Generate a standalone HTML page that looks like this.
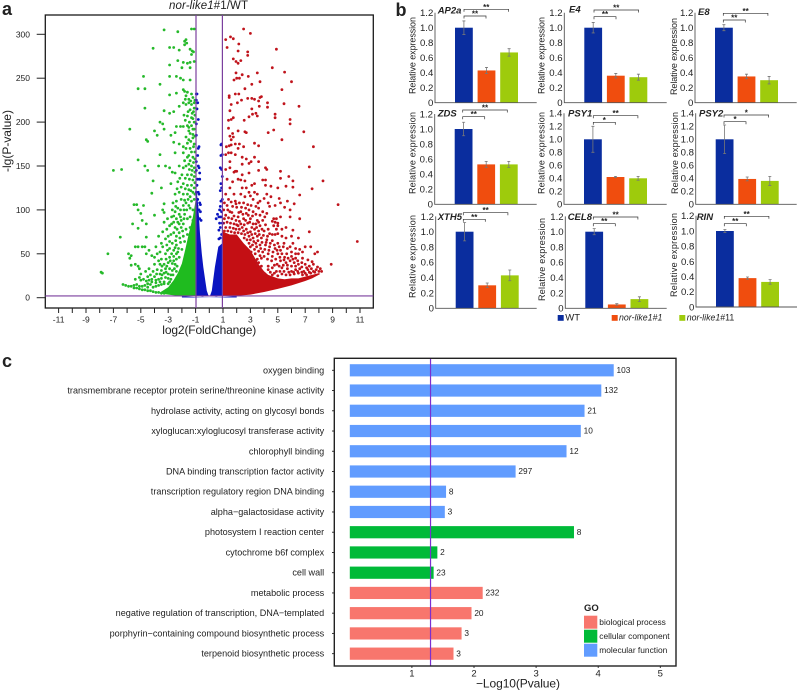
<!DOCTYPE html>
<html>
<head>
<meta charset="utf-8">
<title>nor-like1 volcano, qPCR and GO enrichment</title>
<style>
html,body{margin:0;padding:0;background:#fff}
svg{display:block}
text{font-family:"Liberation Sans",Arial,sans-serif;fill:#222}
</style>
</head>
<body>
<svg id="fig" xmlns="http://www.w3.org/2000/svg" width="798" height="690" viewBox="0 0 798 690"></svg>
<script>
// ---------- Panel a: volcano ----------
const volcanoXTicks = [-11,-10,-9,-8,-7,-6,-5,-4,-3,-2,-1,0,1,2,3,4,5,6,7,8,9,10,11];
const volcanoXLabels = [-11,-9,-7,-5,-3,-1,1,3,5,7,9,11];
const volcanoYTicks = [0,50,100,150,200,250,300];
const foldThresholds = [-1,1];
const pThreshold = [2];

const greenPoints = [[-3.3,305],[-2.3,303],[-1.3,306],[-1.1,306],[-1.8,292],[-1.7,294],[-1.65,290],[-1.8,288],[-4.1,284],[-2.9,285],[-2.6,285],[-2.2,282],[-1.4,283],[-1.25,281],[-1.15,280],[-1.3,277],[-2.3,270],[-1.9,268],[-1.6,267],[-1.4,268],[-1.1,269],[-2.9,265],[-2.0,262],[-1.4,262],[-2.9,252],[-2.4,252],[-2.1,250],[-1.9,248],[-1.4,248],[-4.8,252],[-5.2,238],[-4.7,238],[-3.6,243],[-1.9,237],[-1.8,235],[-1.6,234],[-2.9,231],[-2.4,233],[-1.7,230],[-1.3,232],[-1.2,228],[-1.05,225],[-4.7,216],[-5.8,192],[-3.3,213],[-2.9,210],[-2.6,212],[-2.2,218],[-1.9,222],[-1.7,220],[-1.5,222],[-1.3,220],[-1.1,216],[-3.6,200],[-3.4,198],[-3.3,192],[-2.4,195],[-2.1,195],[-1.9,195],[-1.6,196],[-1.5,190],[-1.4,187],[-1.2,192],[-1.1,200],[-1.3,205],[-1.6,207],[-4.0,190],[-3.8,185],[-2.8,185],[-2.5,188],[-1.7,183],[-1.5,180],[-1.2,182],[-4.6,180],[-4.5,178],[-2.6,177],[-2.2,175],[-1.9,172],[-1.7,170],[-1.4,170],[-1.1,175],[-3.6,163],[-2.5,165],[-1.9,165],[-1.5,162],[-1.2,160],[-5.2,157],[-3.7,150],[-3.2,150],[-2.9,148],[-2.2,150],[-1.9,148],[-1.5,152],[-1.3,150],[-1.1,148],[-4.7,150],[-4.5,145],[-7.0,145],[-6.4,146],[-2.7,143],[-2.5,142],[-2.0,140],[-1.6,140],[-1.3,140],[-1.1,138],[-4.1,133],[-2.8,130],[-2.3,132],[-1.9,130],[-1.6,128],[-1.3,128],[-1.1,125],[-4.2,119],[-3.5,125],[-2.5,118],[-2.2,120],[-1.9,118],[-1.6,118],[-1.4,115],[-1.1,112],[-5.5,106],[-5.3,106],[-4.8,105],[-3.3,107],[-3.4,100],[-5.2,100],[-5.0,96],[-3.3,97],[-2.7,100],[-2.5,98],[-2.3,102],[-2.1,100],[-1.9,105],[-1.7,108],[-1.5,105],[-1.2,100],[-2.6,93],[-2.4,90],[-2.1,92],[-1.8,95],[-1.6,90],[-1.4,92],[-1.2,88],[-5.6,84],[-4.9,88],[-4.6,84],[-4.0,94],[-3.3,86],[-2.9,82],[-2.5,80],[-2.2,84],[-1.9,84],[-1.7,78],[-1.4,80],[-5.2,79],[-3.1,78],[-3.7,70],[-3.4,75],[-2.8,72],[-2.4,70],[-2.2,74],[-1.9,70],[-1.6,72],[-6.5,69],[-4.6,69],[-3.2,67],[-2.7,62],[-2.4,60],[-2.1,63],[-1.8,64],[-5.4,58],[-5.2,58],[-4.9,58],[-4.7,58],[-4.4,54],[-3.9,58],[-3.4,58],[-2.9,56],[-2.6,54],[-2.3,52],[-2.0,55],[-7.4,50],[-5.9,50],[-5.7,48],[-5.8,45],[-4.6,50],[-4.2,48],[-3.8,50],[-3.2,50],[-2.9,46],[-2.6,47],[-2.4,44],[-3.5,44],[-3.7,42],[-5.7,37],[-5.4,38],[-5.2,36],[-5.1,33],[-4.0,38],[-3.6,38],[-3.3,38],[-3.0,40],[-2.7,39],[-2.5,38],[-7.9,29],[-7.8,28],[-4.1,30],[-3.8,32],[-3.5,31],[-3.2,33],[-2.9,33],[-2.7,31],[-4.3,26],[-4.0,24],[-3.6,27],[-3.3,28],[-3.0,27],[-2.8,26],[-5.4,21],[-5.1,23],[-5.0,20],[-4.8,21],[-4.6,19],[-4.4,20],[-4.2,21],[-3.9,20],[-3.7,21],[-3.5,22],[-3.2,23],[-3.0,22],[-2.8,21],[-6.3,15],[-6.1,14],[-5.9,13],[-5.7,13],[-5.5,14],[-5.5,11],[-5.3,15],[-5.3,11],[-5.1,13],[-5.1,10],[-4.9,13],[-4.9,9],[-4.7,14],[-4.7,9],[-4.5,12],[-4.5,8],[-4.3,15],[-4.3,8],[-4.1,12],[-4.1,7],[-3.9,13],[-3.9,6],[-3.7,14],[-3.7,6],[-3.5,15],[-3.5,5],[-3.3,16],[-3.3,5],
[-1.15,212],[-1.25,210],[-1.4,214],[-1.55,212],[-1.75,226],[-1.5,226],[-1.35,224],[-1.1,222],[-1.05,208],[-1.2,204],[-1.45,200],[-1.75,202],[-1.85,208],[-1.3,196],[-1.1,192],[-1.5,194],[-1.2,186],[-1.05,184],[-1.35,178],[-1.6,176],[-1.15,172],[-1.3,166],[-1.05,166],[-1.6,160],[-1.8,156],[-1.4,156],[-1.15,154],[-1.05,158],[-1.25,145],[-1.45,146],[-1.7,150],[-1.05,143],[-1.2,134],[-1.45,135],[-1.75,136],[-2.15,136],[-1.05,131],[-1.35,122],[-1.2,120],[-1.5,123],[-1.75,124],[-2.05,126],[-2.35,124],[-1.05,118],[-1.3,110],[-1.55,112],[-1.8,111],[-2.05,112],[-2.4,110],[-2.65,108],[-1.4,102],[-1.65,100],[-1.85,100],[-2.2,95],[-2.45,104],[-2.75,92],[-3.05,90],[-2.05,88],[-1.85,90],[-2.3,86],[-2.6,86],[-2.75,84],[-2.05,80],[-2.35,78],[-2.6,74],[-3.0,70],[-1.95,76],[-2.15,68],[-2.45,65],[-2.9,64],[-3.5,62],[-3.1,60],[-2.25,56],[-2.5,57],[-2.75,50],[-3.05,54],[-3.6,52],[-4.0,46],[-2.2,46],[-2.4,50],[-2.85,42],[-3.15,44],[-3.45,36],[-2.6,42],[-2.55,33],[-2.35,36],[-2.4,30],[-3.1,36],[-2.65,26],[-3.85,27],[-3.45,26],[-3.15,29],[-4.5,24],[-4.65,30],[-5.0,27],[-4.4,33],[-3.3,18],[-3.0,16],[-3.6,18],[-3.9,17],[-4.2,18],[-4.5,16],[-2.9,18]];

const redPoints = [[2.5,306],[3.0,301],[1.2,294],[1.55,297],[1.75,295],[1.3,285],[2.15,289],[2.1,281],[2.8,280],[2.8,276],[4.9,283],[1.75,272],[1.95,269],[2.3,270],[2.1,267],[4.6,262],[5.5,257],[3.5,256],[1.95,256],[2.4,254],[2.85,252],[2,250],[2.2,250],[1.8,248],[6,246],[3.7,246],[3.1,243],[5.3,237],[2.6,238],[1.9,232],[2.15,232],[1.45,230],[1.45,228],[2.8,227],[3.1,227],[3.3,226],[3.7,228],[3.8,229],[3.6,224],[2.35,225],[2.05,222],[1.6,220],[4.25,222],[5.45,221],[6.55,218],[3.65,218],[4.25,217],[3.1,215],[1.5,213],[3.4,210],[3.15,209],[3.5,207],[4.8,209],[4.8,205],[2.9,206],[1.75,205],[1.6,203],[2.55,202],[5.9,203],[5.9,198],[1.4,202],[2.1,190],[1.4,193],[6.9,189],[4.7,191],[4.3,188],[2.6,189],[2.7,188],[1.7,187],[1.5,184],[5.3,180],[7.6,172],[3.3,176],[3.6,173],[1.6,180],[1.75,183],[1.25,172],[1.45,173],[1.6,174],[1.9,175],[2.2,175],[2.5,172],[2.1,170],[1.4,165],[1.6,165],[1.2,163],[1.9,163],[2.4,160],[2.7,158],[3.3,160],[3.6,155],[3.05,155],[2.9,153],[2.4,152],[1.5,155],[7.3,149],[5.2,144],[4.2,146],[4.1,148],[3.6,145],[1.2,146],[1.5,148],[1.8,143],[1.9,144],[2.0,144],[2.4,140],[2.9,142],[5.8,138],[6.1,133],[3.9,134],[4.1,134],[5.2,136],[8.3,133],[2.1,135],[2.3,134],[2.6,133],[1.3,135],[1.7,132],[3.3,130],[3.1,128],[4.1,128],[4.5,127],[5.0,125],[5.6,127],[6.1,126],[7.5,124],[2.4,125],[2.7,125],[1.5,125],[2.9,120],[3.3,120],[3.5,118],[3.0,116],[6.6,117],[4.2,118],[1.2,118],[1.8,118],[2.3,118],[2.6,115],[3.2,112],[3.7,110],[4.0,113],[4.5,115],[5.1,113],[1.4,112],[1.9,110],[2.2,108],[2.5,108],[2.8,106],[3.4,104],[4.3,108],[5.2,108],[5.7,110],[6.2,107],[9.4,106],[4.8,105],[4.4,104],[5.5,103],[5.9,100],[1.3,105],[1.7,104],[2.0,103],[2.9,100],[3.2,98],[3.6,102],[3.9,98],[1.5,98],[2.3,98],[2.7,96],[3.4,95],[4.2,96],[5.9,92],[5.2,92],[4.7,90],[4.9,90],[6.6,90],[1.2,94],[1.8,93],[2.1,92],[2.5,90],[3.0,90],[3.5,88],[3.9,88],[4.6,87],[4.8,86],[5.0,85],[5.0,82],[4.7,82],[4.9,78],[5.3,78],[2.8,85],[3.2,84],[3.7,82],[4.1,83],[7.3,75],[5.6,80],[6.1,77],[3.3,78],[3.6,76],[4.0,76],[4.4,73],[4.6,72],[4.8,72],[5.0,73],[5.3,70],[5.6,68],[6.0,70],[6.5,68],[3.0,75],[2.7,78],[2.4,80],[2.1,82],[2.6,72],[2.9,70],[3.2,68],[3.5,70],[3.8,68],[4.2,66],[4.6,65],[5.0,62],[5.4,58],[5.7,56],[6.1,62],[7.0,58],[7.4,58],[3.4,62],[3.7,60],[4.1,60],[4.4,58],[4.8,56],[5.2,54],[6.6,55],[6.8,52],[6.5,50],[7.9,52],[7.7,50],[3.0,58],[3.3,55],[3.6,53],[3.9,52],[4.3,50],[4.6,47],[5.0,50],[5.5,46],[6.0,47],[6.3,45],[6.8,45],[7.2,43],[7.5,41],[8.9,38],[3.2,45],[3.5,44],[3.8,45],[5.2,42],[5.6,40],[5.9,42],[6.2,40],[6.5,38],[7.0,38],[7.3,36],[7.6,38],[7.9,35],[8.1,33],[3.5,38],[3.8,36],[4.0,28],[4.3,32],[4.6,34],[4.9,30],[5.3,34],[5.7,33],[6.0,30],[6.3,32],[6.6,33],[6.9,30],[7.2,32],[7.6,30],[4.6,26],[5.0,25],[5.3,27],[5.6,26],[5.9,26],[6.2,27],[6.5,28],[6.8,26],[7.1,26],[7.4,28],[7.7,29],[8.0,30],[8.2,30],[10.8,64],
[1.1,108],[1.6,109],[1.95,107],[2.35,103],[2.65,102],[3.05,105],[3.55,108],[1.05,100],[1.35,100],[1.65,97],[2.15,97],[2.45,95],[2.85,94],[3.15,93],[3.7,94],[4.05,92],[1.1,90],[1.4,91],[1.65,90],[1.95,88],[2.2,87],[2.65,88],[2.95,86],[3.4,84],[3.6,86],[1.05,85],[1.3,86],[1.55,85],[1.8,84],[2.0,83],[2.3,84],[2.55,83],[3.1,80],[3.45,80],[3.85,78],[4.3,78],[1.2,80],[1.5,80],[1.75,79],[1.95,78],[2.2,78],[2.5,76],[2.8,74],[3.1,72],[3.35,73],[3.65,72],[3.95,71],[4.25,70],[1.1,76],[1.35,76],[1.6,75],[1.85,74],[2.1,74],[2.35,73],[2.55,68],[2.75,66],[3.0,66],[3.25,64],[3.55,65],[3.85,63],[4.15,63],[4.45,62],[4.75,60],[5.1,58],[5.45,62],[5.9,58],[6.3,56],[2.9,62],[3.15,60],[3.45,58],[3.75,56],[4.05,55],[4.35,54],[4.65,52],[4.95,54],[5.3,50],[5.65,50],[6.0,52],[6.3,50],[3.05,52],[3.35,50],[3.7,48],[4.0,47],[4.25,44],[4.55,42],[4.85,44],[5.15,46],[5.45,43],[5.75,45],[6.1,44],[6.45,42],[6.75,40],[3.6,40],[3.4,42],[3.7,33],[4.95,38],[5.1,36],[5.4,37],[5.7,37],[6.0,36],[6.3,36],[6.75,35],[7.1,34],[7.45,33],[7.8,32],[4.45,29],[4.75,28],[5.15,30],[5.45,30],[5.8,29],[6.15,29],[6.45,30],[6.75,29],[7.0,28],[7.3,29],[4.3,36],[4.75,37]];

const bluePoints = [[-0.95,232],[-0.9,232],[-0.95,225],[-0.85,222],[-0.9,215],[-0.8,203],[-0.95,198],[-0.75,172],[-0.8,170],[-0.95,185],[-0.85,162],[-0.95,155],[-0.8,150],[-0.75,148],[-0.7,142],[-0.95,145],[-0.85,135],[-0.7,135],[-0.9,128],[-0.8,120],[-0.75,118],[-0.95,120],[-0.85,112],[-0.7,108],[-0.65,106],[-0.9,105],[-0.75,100],[-0.65,98],[-0.85,92],[-0.7,90],[-0.6,88],[0.9,175],[0.85,174],[0.95,163],[0.85,162],[0.8,148],[0.9,146],[0.95,138],[0.85,130],[0.9,125],[0.8,122],[0.95,112],[0.85,110],[0.8,104],[0.75,100],[0.9,98],[0.6,95],[0.7,92],[0.85,92],[0.5,90],[0.75,85],[0.95,85],[0.8,80],[0.7,77],[0.9,72],[0.8,68],[0.7,67]];

// Dense regions: outline read as (log2FC, -lgP) envelope of the solid point clouds.
const denseGreenOutline = [[-1,111],[-1.2,92],[-1.5,73],[-1.75,55],[-2,39],[-2.3,28],[-2.6,20],[-3,12],[-3.4,8],[-3.7,5],[-3.0,3.5],[-2.5,2.5],[-2,2],[-1.5,2],[-1,2]];
const denseRedOutline = [[1,75],[1.5,72],[2,72],[2.5,62],[3,54],[3.3,46],[3.6,38],[4,30],[4.3,26],[5,22],[5.5,21],[6,22],[6.5,22],[7,24],[7.5,26],[8,28],[8.1,27],[7.5,22],[7,19],[6,14],[5,10],[4,6.5],[3,3.5],[2,2],[1,2]];
const denseBlueLeftOutline = [[-1,128],[-0.9,118],[-0.8,104],[-0.68,73],[-0.55,50],[-0.44,35],[-0.3,20],[-0.18,8],[-0.05,2],[-0.5,1],[-1,2]];
const denseBlueRightOutline = [[1,72],[0.95,62],[0.8,60],[0.66,58],[0.52,45],[0.41,35],[0.3,22],[0.18,8],[0.05,2],[0.5,1],[1,2]];
const blueBaseline = [[-2,1.6],[-1,0.7],[0,0.3],[1,0.7],[2,1.6],[2,0.2],[-2,0.2]];

// ---------- Panel b: qPCR bars ----------
const seriesNames = ['WT','nor-like1#1','nor-like1#11'];
const genes = ['AP2a','E4','E8','ZDS','PSY1','PSY2','XTH5','CEL8','RIN'];
const wtValues = [1,1,1,1,1,1,1,1,1];
const line1Values = [0.43,0.36,0.35,0.53,0.42,0.39,0.30,0.05,0.38];
const line11Values = [0.67,0.34,0.30,0.53,0.40,0.36,0.43,0.12,0.33];
const wtErrors = [0.09,0.07,0.04,0.09,0.20,0.22,0.12,0.04,0.02];
const line1Errors = [0.04,0.03,0.03,0.04,0.01,0.03,0.03,0.01,0.015];
const line11Errors = [0.05,0.04,0.05,0.04,0.03,0.07,0.07,0.03,0.03];
const geneMaxTick = [1.2,1.2,1.2,1.2,1.4,1.4,1.2,1.2,1.2];
const lowerStars = ['**','**','**','**','*','*','**','**','**'];
const upperStars = ['**','**','**','**','**','*','**','**','**'];

// Panel placement (layout, not data)
const panelLayout = [
 {l:435,   r:536.7, y0:102.7, y1:27.7, labX:412.7, labT:17,  labB:94,  gx:437.7, gy:13.5, bx:464,   upY:9.3,  loY:16},
 {l:564.3, r:666.7, y0:102.7, y1:27.7, labX:541.7, labT:17,  labB:94,  gx:569,   gy:12.7, bx:594,   upY:10,   loY:16.7},
 {l:695,   r:796.7, y0:102.7, y1:27.7, labX:674,   labT:18,  labB:95,  gx:698,   gy:15,   bx:723.3, upY:13.3, loY:20},
 {l:434.7, r:536.7, y0:204.3, y1:129,  labX:412.7, labT:112, labB:194, gx:437.7, gy:116.7,bx:462.7, upY:110,  loY:116.7},
 {l:564,   r:666.7, y0:204.3, y1:139.3,labX:541.7, labT:112, labB:194, gx:568,   gy:116.7,bx:593.3, upY:115.7,loY:122.3},
 {l:695.7, r:796.7, y0:204.3, y1:139.3,labX:675,   labT:112, labB:194, gx:699,   gy:116.7,bx:724,   upY:115,  loY:121.7},
 {l:435.7, r:536.7, y0:308.3, y1:231.7,labX:412.7, labT:215, labB:298, gx:437.7, gy:220,  bx:463.3, upY:212.7,loY:219.3},
 {l:565.3, r:666.7, y0:308.3, y1:231.7,labX:542,   labT:218, labB:301, gx:567.7, gy:220,  bx:593.3, upY:217,  loY:223.7},
 {l:696,   r:797,   y0:307,   y1:231,  labX:674,   labT:213, labB:297, gx:696.7, gy:220,  bx:724.3, upY:216.3,loY:223.7}
];

// ---------- Panel c: GO enrichment ----------
const goTerms = ['oxygen binding','transmembrane receptor protein serine/threonine kinase activity','hydrolase activity, acting on glycosyl bonds','xyloglucan:xyloglucosyl transferase activity','chlorophyll binding','DNA binding transcription factor activity','transcription regulatory region DNA binding','alpha\u2212galactosidase activity','photosystem I reaction center','cytochrome b6f complex','cell wall','metabolic process','negative regulation of transcription, DNA\u2212templated','porphyrin\u2212containing compound biosynthetic process','terpenoid biosynthetic process'];
const goPvalues = [4.25,4.05,3.78,3.72,3.49,2.67,1.55,1.53,3.61,1.41,1.35,2.14,1.96,1.80,1.67];
const goCounts = [103,132,21,10,12,297,8,3,8,2,23,232,20,3,3];
const goClasses = ['mf','mf','mf','mf','mf','mf','mf','mf','cc','cc','cc','bp','bp','bp','bp'];
const goXTicks = [1,2,3,4,5];
const goCutoff = [1.3];
const goLegendKeys = ['bp','cc','mf'];
const goLegendLabels = ['biological process','cellular component','molecular function'];

// ---------- Helpers ----------
const svg = document.getElementById('fig');
const NS = 'http://www.w3.org/2000/svg';
function mk(tag, attrs, parent){
  const e = document.createElementNS(NS, tag);
  for (const k in attrs) e.setAttribute(k, attrs[k]);
  (parent || svg).appendChild(e);
  return e;
}
function txt(str, attrs, parent){
  const e = mk('text', attrs, parent);
  e.textContent = str;
  return e;
}
function group(parent){ return mk('g', {}, parent); }

// ---------- Draw panel a ----------
const vx = v => 209.3 + v * 13.7;
const vy = v => 297.7 - v * 0.878;
const volcano = group();



function outline(points, color, name){
  const p = mk('polygon', {points: points.map(d => vx(d[0]).toFixed(1) + ',' + vy(d[1]).toFixed(1)).join(' '), fill: color}, volcano);
  
  
}
function scatter(points, color, name){
  const g = group(volcano);
  
  
  points.forEach(d => {
    const c = mk('circle', {cx: vx(d[0]).toFixed(1), cy: vy(d[1]).toFixed(1), r: 1.4, fill: color}, g);
    
    
  });
}
outline(denseGreenOutline, '#1fbb1f', 'down-regulated-dense-cloud');
outline(denseRedOutline, '#c40f14', 'up-regulated-dense-cloud');
outline(denseBlueLeftOutline, '#0a14c0', 'unchanged-dense-cloud-left');
outline(denseBlueRightOutline, '#0a14c0', 'unchanged-dense-cloud-right');
outline(blueBaseline, '#0a14c0', 'unchanged-baseline-cloud');
scatter(greenPoints, '#25b92a', 'down-regulated-points');
scatter(redPoints, '#c0141c', 'up-regulated-points');
scatter(bluePoints, '#0a14c0', 'unchanged-points');

const vFrame = mk('rect', {x:45.3, y:15, width:328, height:293, fill:'none', stroke:'#1a1a1a', 'stroke-width':1.3}, volcano);



foldThresholds.forEach(t => {
  const l = mk('line', {x1:vx(t)+(t<0?0.4:-0.6), x2:vx(t)+(t<0?0.4:-0.6), y1:15, y2:308, stroke:'#7b3f9e', 'stroke-width':1.2}, volcano);
  
  
});
pThreshold.forEach(t => {
  const l = mk('line', {x1:45.3, x2:373.3, y1:vy(t), y2:vy(t), stroke:'#7b3f9e', 'stroke-width':1.2}, volcano);
  
  
});
volcanoXTicks.forEach(t => {
  const l = mk('line', {x1:vx(t), x2:vx(t), y1:308, y2:313, stroke:'#222', 'stroke-width':1}, volcano);
  
  
});
volcanoXLabels.forEach(t => {
  const e = txt(String(t), {x:vx(t), y:322.7, 'font-size':8.5, 'text-anchor':'middle', fill:'#333'}, volcano);
  
  
});
volcanoYTicks.forEach(t => {
  const l = mk('line', {x1:36.7, x2:45.3, y1:vy(t), y2:vy(t), stroke:'#222', 'stroke-width':1}, volcano);
  
  
  const e = txt(String(t), {x:30, y:vy(t)+3, 'font-size':8.5, 'text-anchor':'end', fill:'#333'}, volcano);
  
  
});
const vXTitle = txt('log2(FoldChange)', {x:209.3, y:334, 'font-size':12, 'text-anchor':'middle', textLength:94}, volcano);


const vYTitle = txt('-lg(P-value)', {x:0, y:0, 'font-size':12, 'text-anchor':'middle', textLength:62, transform:'translate(11,141) rotate(-90)'}, volcano);


const vTitle = txt('', {x:169, y:9, 'font-size':11.5, textLength:79}, volcano);


const vTitleA = mk('tspan', {'font-style':'italic'}, vTitle);
vTitleA.textContent = 'nor-like1';
const vTitleB = mk('tspan', {}, vTitle);
vTitleB.textContent = '#1/WT';

const labelA = txt('a', {x:2, y:15, 'font-size':18, 'font-weight':'bold', fill:'#000'});


const labelB = txt('b', {x:395.5, y:16, 'font-size':18, 'font-weight':'bold', fill:'#000'});


const labelC = txt('c', {x:2, y:367, 'font-size':18, 'font-weight':'bold', fill:'#000'});



// ---------- Draw panel b ----------
const barColors = ['#0a2d9e','#f04d0e','#9ecb0c'];
function bracket(parent, x1, x2, y, stars){
  const p = mk('path', {d:`M${x1} ${y+2.5}V${y}H${x2}V${y+2.5}`, fill:'none', stroke:'#333', 'stroke-width':0.7}, parent);
  
  
  const s = txt(stars, {x:(x1+x2)/2, y:y+0.5, 'font-size':8, 'font-weight':'bold', 'text-anchor':'middle', fill:'#222'}, parent);
  
  
}
genes.forEach((gene, gi) => {
  const L = panelLayout[gi];
  const yScale = v => L.y0 - v * (L.y0 - L.y1);
  const g = group();
  
  

  const vals = [wtValues[gi], line1Values[gi], line11Values[gi]];
  const errs = [wtErrors[gi], line1Errors[gi], line11Errors[gi]];
  const startX = L.l + 20;
  vals.forEach((v, i) => {
    const x = startX + i * 22.6;
    const r = mk('rect', {x:x, y:yScale(v), width:17.8, height:L.y0 - yScale(v), fill:barColors[i]}, g);
    
    
    const cx = x + 8.9;
    const e = mk('path', {d:`M${cx} ${yScale(v+errs[i])}V${yScale(v-errs[i])}M${cx-1.5} ${yScale(v+errs[i])}H${cx+1.5}M${cx-1.5} ${yScale(v-errs[i])}H${cx+1.5}`, fill:'none', stroke:'#777', 'stroke-width':0.8}, g);
    
    
  });

  const axis = mk('path', {d:`M${L.l} ${yScale(geneMaxTick[gi])}V${L.y0}H${L.r}`, fill:'none', stroke:'#555', 'stroke-width':0.9}, g);
  
  

  const steps = Math.round(geneMaxTick[gi] / 0.2);
  for (let k = 0; k <= steps; k++){
    const v = k * 0.2;
    const t = txt(k === 0 ? '0' : v.toFixed(1), {x:L.l - 1.7, y:yScale(v) + 3.4, 'font-size':9.6, 'text-anchor':'end', fill:'#333'}, g);
    
    
  }
  const yl = txt('Relative expression', {x:0, y:0, 'font-size':9, 'text-anchor':'middle', fill:'#333', textLength:L.labB-L.labT, transform:`translate(${L.labX+3},${(L.labT+L.labB)/2}) rotate(-90)`}, g);
  
  
  const gt = txt(gene, {x:L.gx, y:L.gy, 'font-size':9.5, 'font-weight':'bold', 'font-style':'italic', fill:'#111'}, g);
  
  
  bracket(g, L.bx, L.bx + 22, L.loY, lowerStars[gi]);
  bracket(g, L.bx, L.bx + 44.6, L.upY, upperStars[gi]);
});

const legendItems = [[557.7,'#0a2d9e',565.3,'WT'],[611.7,'#f04d0e',619,'nor-like1#1'],[679.3,'#9ecb0c',686.7,'nor-like1#11']];
legendItems.forEach(item => {
  const g = group();
  
  
  const s = mk('rect', {x:item[0], y:315, width:6, height:5.8, fill:item[1]}, g);
  
  
  const t = txt('', {x:item[2], y:320.7, 'font-size':item[3] === 'WT' ? 9.5 : 8.8, fill:'#333'}, g);
  
  
  if (item[3] === 'WT') { t.textContent = 'WT'; }
  else {
    const parts = item[3].split('#');
    const a = mk('tspan', {'font-style':'italic'}, t);
    a.textContent = parts[0];
    const b = mk('tspan', {'font-style':item[3].endsWith('#1') ? 'italic' : 'normal'}, t);
    b.textContent = '#' + parts[1];
  }
});

// ---------- Draw panel c ----------
const gx = v => 349.8 + v * 62.1;
const gy = i => 370.3 + i * 20.24;
const goColor = {bp:'#F8766D', cc:'#00BA38', mf:'#619CFF'};
const goPlot = group();


goTerms.forEach((term, i) => {
  const r = mk('rect', {x:gx(0), y:gy(i)-6.1, width:gx(goPvalues[i])-gx(0), height:12.2, fill:goColor[goClasses[i]]}, goPlot);
  
  
  const c = txt(String(goCounts[i]), {x:gx(goPvalues[i])+2.8, y:gy(i)+2.6, 'font-size':8.3, fill:'#333'}, goPlot);
  
  
  const t = txt(term, {x:324.2, y:gy(i)+3, 'font-size':9.1, 'text-anchor':'end', fill:'#222'}, goPlot);
  
  
  const k = mk('line', {x1:332, x2:334.3, y1:gy(i), y2:gy(i), stroke:'#222', 'stroke-width':0.9}, goPlot);
  
  
});
goCutoff.forEach(v => {
  const l = mk('line', {x1:gx(v), x2:gx(v), y1:358.3, y2:666, stroke:'#7a2fd0', 'stroke-width':1.2}, goPlot);
  
  
});
const gFrame = mk('rect', {x:334.3, y:358.3, width:341.7, height:307.7, fill:'none', stroke:'#222', 'stroke-width':1.4}, goPlot);


goXTicks.forEach(v => {
  const l = mk('line', {x1:gx(v), x2:gx(v), y1:666, y2:668, stroke:'#222', 'stroke-width':0.9}, goPlot);
  
  
  const t = txt(String(v), {x:gx(v), y:676.5, 'font-size':9.5, 'text-anchor':'middle', fill:'#333'}, goPlot);
  
  
});
const gTitle = txt('\u2212Log10(Pvalue)', {x:518, y:687.5, 'font-size':12, 'text-anchor':'middle', fill:'#222', textLength:84}, goPlot);



const goLegendTitle = txt('GO', {x:584, y:611, 'font-size':9.5, 'font-weight':'bold', fill:'#111'}, goPlot);


goLegendKeys.forEach((k, i) => {
  const sy = 615.7 + i * 14;
  const s = mk('rect', {x:584, y:sy, width:13.3, height:13, fill:goColor[k]}, goPlot);
  
  
  const t = txt(goLegendLabels[i], {x:599.3, y:sy + 9.3, 'font-size':8.4, fill:'#333'}, goPlot);
  
  
});
</script>
</body>
</html>
